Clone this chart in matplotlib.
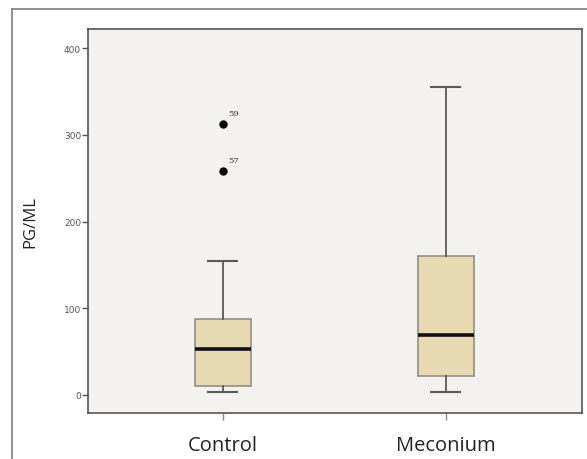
import matplotlib
matplotlib.use("Agg")
import matplotlib.pyplot as plt
from matplotlib.lines import Line2D

categories = ["Control", "Meconium"]
whislo = [3.5, 3.5]
q1 = [10.5, 22]
med = [53, 69]
q3 = [88, 160]
whishi = [155, 355]
outliers = [[312, 258], []]
outlier_ids = [["59", "57"], []]
yticks = [0, 100, 200, 300, 400]

W, H = 587, 460
fig = plt.figure(figsize=(W / 100, H / 100), dpi=100)
fig.patch.set_facecolor("white")

# axes placement (pixels)
L, R, T, B = 88, 582, 30, 414
ax = fig.add_axes([L / W, 1 - B / H, (R - L) / W, (B - T) / H])
ax.set_facecolor("#f3f2f0")

stats = []
for i, c in enumerate(categories):
    stats.append(dict(label=c, whislo=whislo[i], q1=q1[i], med=med[i],
                      q3=q3[i], whishi=whishi[i], fliers=outliers[i]))

positions = [1, 2]
ax.bxp(stats, positions=positions, widths=0.25, patch_artist=True,
       boxprops=dict(facecolor="#e7d9b1", edgecolor="#9a958b", linewidth=1.3),
       medianprops=dict(color="#111111", linewidth=2.6),
       whiskerprops=dict(color="#5a5a5a", linewidth=1.3),
       capprops=dict(color="#5a5a5a", linewidth=1.5),
       capwidths=0.13,
       flierprops=dict(marker="o", markerfacecolor="black",
                       markeredgecolor="black", markersize=5))

for i, pos in enumerate(positions):
    for v, lab in zip(outliers[i], outlier_ids[i]):
        ax.annotate(lab, (pos, v), xytext=(4, 5), textcoords="offset points",
                    fontsize=6, color="#333333", family="DejaVu Serif",
                    ha="left", va="bottom")

ax.set_xlim(0.395, 2.61)
ax.set_ylim(-20.8, 422)
ax.set_yticks(yticks)
ax.set_yticklabels([str(t) for t in yticks], fontsize=6.5, color="#555555",
                   family="Liberation Sans Narrow")
ax.set_xticks(positions)
ax.set_xticklabels(categories, fontsize=14.5, color="#222222", family="Open Sans")
ax.tick_params(axis="y", length=4, width=1, color="#555555", pad=1)
ax.tick_params(axis="x", length=5, width=1, color="#888888", pad=11)
ax.set_ylabel("PG/ML", fontsize=12, color="#222222", family="Open Sans")
ax.yaxis.set_label_coords((38 - L) / (R - L), 0.5)
for s in ax.spines.values():
    s.set_color("#555555")
    s.set_linewidth(1.2)

# outer frame lines (top and left)
fig.add_artist(Line2D([12 / W, 1.0], [1 - 10 / H, 1 - 10 / H],
                      transform=fig.transFigure, color="#888888", linewidth=1.3))
fig.add_artist(Line2D([12 / W, 12 / W], [1 - 10 / H, 0.0],
                      transform=fig.transFigure, color="#888888", linewidth=1.3))

fig.savefig("out.png", dpi=100)
